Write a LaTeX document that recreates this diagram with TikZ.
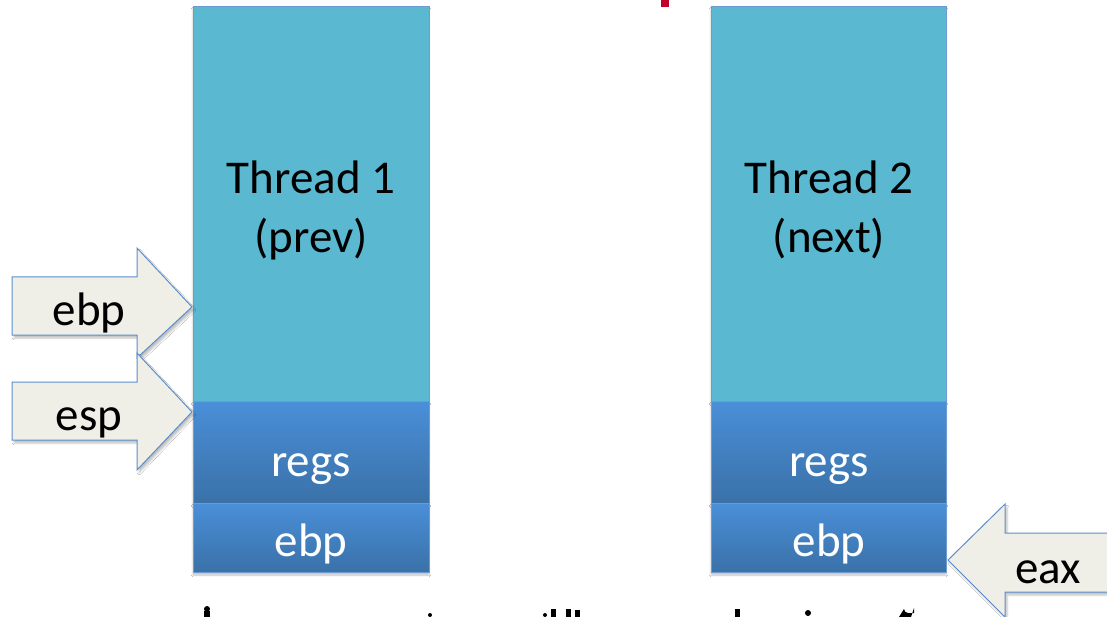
\documentclass[tikz,border=0pt]{standalone}
\usepackage{fontspec}
\setmainfont{Carlito}
\usetikzlibrary{shadows.blur}
\definecolor{stackcyan}{HTML}{5AB8D1}
\definecolor{stackedge}{HTML}{6E9BD2}
\definecolor{regtop}{HTML}{4A8FD8}
\definecolor{regbot}{HTML}{3A71A8}
\definecolor{ptrfill}{HTML}{EFEFE8}
\definecolor{ptredge}{HTML}{5C8FCB}
\definecolor{titlered}{HTML}{C00028}
\tikzset{
  stackbox/.style={draw=stackedge, line width=0.9pt, fill=stackcyan,
    blur shadow={shadow xshift=0pt, shadow yshift=-3pt, shadow blur steps=6, shadow opacity=25}},
  regbox/.style={draw=stackedge, line width=0.9pt, top color=regtop, bottom color=regbot,
    blur shadow={shadow xshift=0pt, shadow yshift=-3pt, shadow blur steps=6, shadow opacity=25}},
  ptrshape/.style={draw=ptredge, line width=1pt, fill=ptrfill, line join=miter,
    blur shadow={shadow xshift=2pt, shadow yshift=-3pt, shadow blur steps=5, shadow opacity=25}},
  blacktext/.style={font=\fontsize{47}{59}\selectfont, text=black, align=center, inner sep=0pt},
  whitetext/.style={font=\fontsize{47}{59}\selectfont, text=white, align=center, inner sep=0pt},
}
\begin{document}
\begin{tikzpicture}[x=1pt, y=-1pt]
\useasboundingbox (0,0) rectangle (1107,617);
\fill[white] (0,0) rectangle (1107,617);

% fragment of the heading above
\fill[titlered] (661,0) rectangle (669,7);

% thread 1 stack
\draw[stackbox] (193,6) rectangle (429,401);
\node[blacktext] (t1name) at (311,210) {Thread 1\\(prev)};
\draw[regbox] (193,401) rectangle (429,503);
\node[whitetext, anchor=base] (t1regs) at (311,476) {regs};
\draw[regbox] (193,503) rectangle (429,572);
\node[whitetext, anchor=base] (t1ebp) at (311,556) {ebp};

% thread 2 stack
\draw[stackbox] (711,6) rectangle (946,401);
\node[blacktext] (t2name) at (829,210) {Thread 2\\(next)};
\draw[regbox] (711,401) rectangle (946,503);
\node[whitetext, anchor=base] (t2regs) at (829,476) {regs};
\draw[regbox] (711,503) rectangle (946,572);
\node[whitetext, anchor=base] (t2ebp) at (829,556) {ebp};

% ebp pointer
\draw[ptrshape] (12,277) -- (137,277) -- (137,248) -- (192,307) -- (137,358)
  -- (137,335) -- (12,335) -- cycle;
\node[blacktext, anchor=base] (pebp) at (89,325) {ebp};

% esp pointer
\draw[ptrshape] (12,382) -- (137,382) -- (137,353) -- (192,412) -- (137,470)
  -- (137,440) -- (12,440) -- cycle;
\node[blacktext, anchor=base] (pesp) at (89,430) {esp};

% eax pointer
\draw[ptrshape] (1115,533) -- (1005,533) -- (1005,504) -- (948,560) -- (1005,617)
  -- (1005,592) -- (1115,592) -- cycle;
\node[blacktext, anchor=base] (peax) at (1048,583) {eax};

% tops of the line of text below
\begin{scope}[black]
  \fill (207,609) circle (3);
  \fill (204,611) rectangle (210,617);
  \fill (430,615) circle (2);
  \fill (545,615) circle (2);
  \fill (575,610) rectangle (580,617);
  \fill (551,609) rectangle (556,617);
  \fill (566,609) rectangle (571,617);
  \fill (735,609) rectangle (740,617);
  \fill (808,613) circle (3);
  \fill (899,617) arc (180:90:9) -- (914,608) -- (914,613) -- (908,613) arc (90:180:4) -- cycle;
\end{scope}
\end{tikzpicture}
\end{document}
